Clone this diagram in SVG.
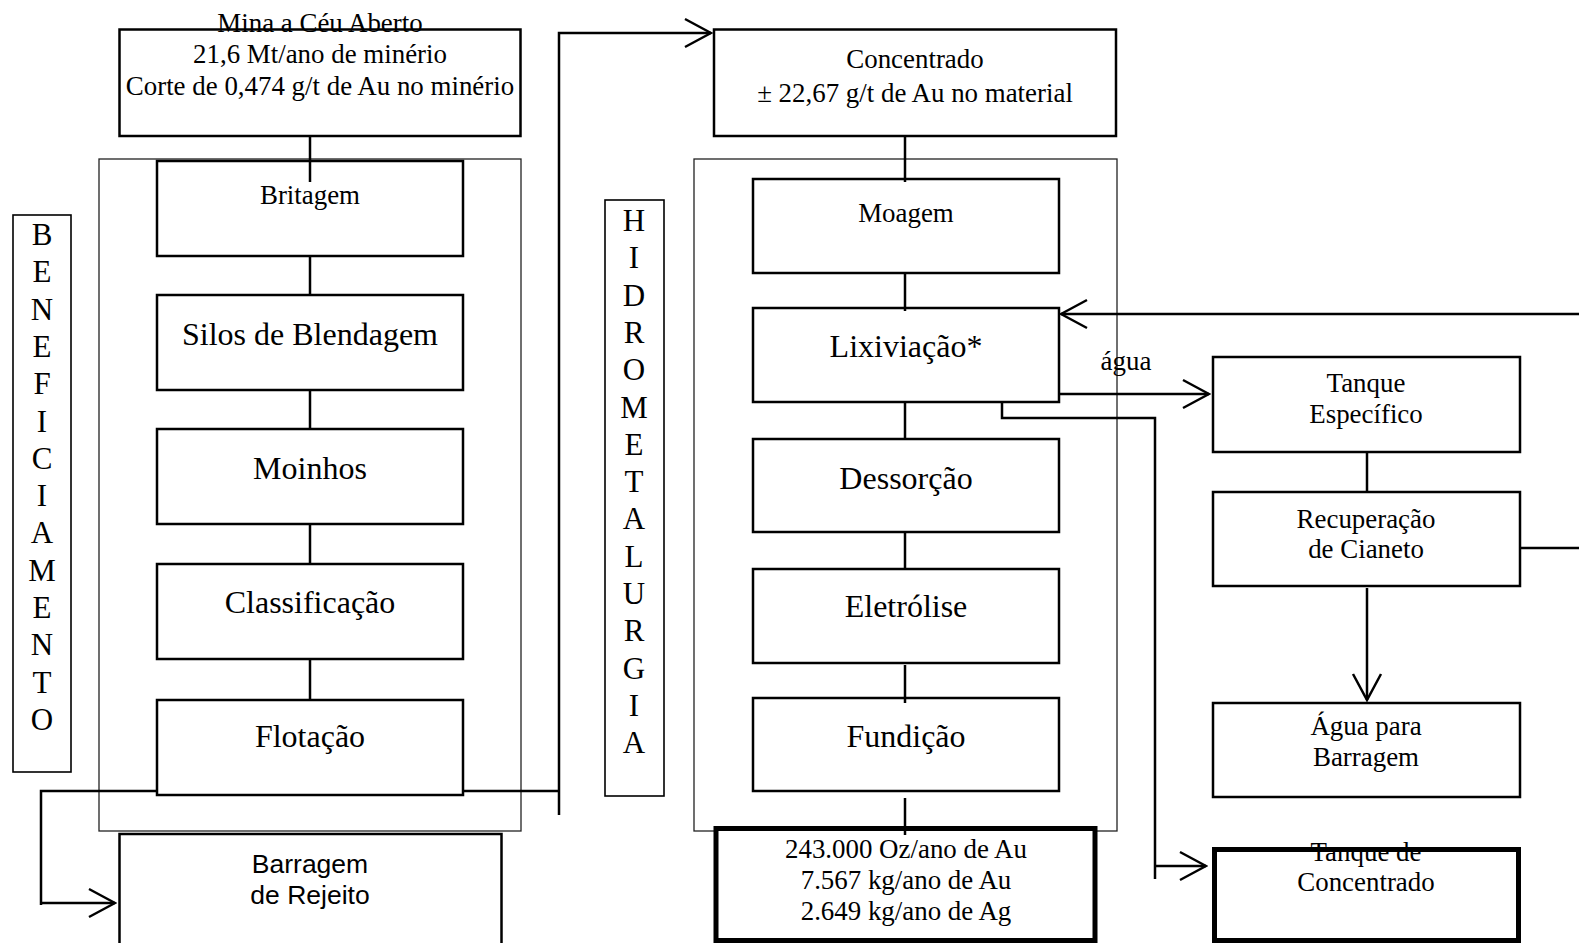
<svg xmlns="http://www.w3.org/2000/svg" width="1579" height="943" viewBox="0 0 1579 943">
<style>
.box{fill:#fff;stroke:#000;stroke-width:2.5}
.thick{fill:#fff;stroke:#000;stroke-width:5}
.frame{fill:none;stroke:#222;stroke-width:1.3}
.lbl{fill:#fff;stroke:#000;stroke-width:1.6}
.c{fill:none;stroke:#000;stroke-width:2.5}
.s{font-family:"Liberation Serif","Times New Roman",serif;font-size:26.9px;text-anchor:middle;fill:#000}
.b{font-family:"Liberation Serif","Times New Roman",serif;font-size:32px;text-anchor:middle;fill:#000}
.v{font-family:"Liberation Serif","Times New Roman",serif;font-size:31px;text-anchor:middle;fill:#000}
.a{font-family:"Liberation Sans",Arial,sans-serif;font-size:26.5px;text-anchor:middle;fill:#000}
</style>
<defs>
<marker id="arr" markerUnits="userSpaceOnUse" markerWidth="30" markerHeight="32" viewBox="0 0 30 32" refX="28" refY="16" orient="auto">
<path d="M2,2 L28,16 L2,30" fill="none" stroke="#000" stroke-width="2.5"/>
</marker>
</defs>
<rect width="1579" height="943" fill="#fff"/>
<g id="frames">
<rect id="frame-beneficiamento" class="frame" x="99" y="159" width="422" height="672"/>
<rect id="frame-hidrometalurgia" class="frame" x="694" y="159" width="423" height="672"/>
</g>
<g id="label-beneficiamento">
<rect class="lbl" x="13" y="215" width="58" height="557"/>
<text class="v" x="42" y="245">B</text>
<text class="v" x="42" y="282.3">E</text>
<text class="v" x="42" y="319.6">N</text>
<text class="v" x="42" y="356.9">E</text>
<text class="v" x="42" y="394.2">F</text>
<text class="v" x="42" y="431.5">I</text>
<text class="v" x="42" y="468.8">C</text>
<text class="v" x="42" y="506.1">I</text>
<text class="v" x="42" y="543.4">A</text>
<text class="v" x="42" y="580.7">M</text>
<text class="v" x="42" y="618">E</text>
<text class="v" x="42" y="655.3">N</text>
<text class="v" x="42" y="692.6">T</text>
<text class="v" x="42" y="729.9">O</text>
</g>
<g id="label-hidrometalurgia">
<rect class="lbl" x="605" y="200" width="59" height="596"/>
<text class="v" x="634" y="231">H</text>
<text class="v" x="634" y="268.3">I</text>
<text class="v" x="634" y="305.6">D</text>
<text class="v" x="634" y="342.9">R</text>
<text class="v" x="634" y="380.2">O</text>
<text class="v" x="634" y="417.5">M</text>
<text class="v" x="634" y="454.8">E</text>
<text class="v" x="634" y="492.1">T</text>
<text class="v" x="634" y="529.4">A</text>
<text class="v" x="634" y="566.7">L</text>
<text class="v" x="634" y="604">U</text>
<text class="v" x="634" y="641.3">R</text>
<text class="v" x="634" y="678.6">G</text>
<text class="v" x="634" y="715.9">I</text>
<text class="v" x="634" y="753.2">A</text>
</g>
<g id="mina">
<rect class="box" x="119.5" y="29.5" width="401" height="106.5"/>
<text class="s" x="320" y="32">Mina a Céu Aberto</text>
<text class="s" x="320" y="63">21,6 Mt/ano de minério</text>
<text class="s" x="320" y="95">Corte de 0,474 g/t de Au no minério</text>
</g>
<g id="britagem"><rect class="box" x="157" y="161" width="306" height="95"/><text class="s" x="310" y="204">Britagem</text></g>
<g id="silos"><rect class="box" x="157" y="295" width="306" height="95"/><text class="b" x="310" y="345">Silos de Blendagem</text></g>
<g id="moinhos"><rect class="box" x="157" y="429" width="306" height="95"/><text class="b" x="310" y="479">Moinhos</text></g>
<g id="classificacao"><rect class="box" x="157" y="564" width="306" height="95"/><text class="b" x="310" y="613">Classificação</text></g>
<g id="flotacao"><rect class="box" x="157" y="700" width="306" height="95"/><text class="b" x="310" y="747">Flotação</text></g>
<g id="barragem-rejeito"><rect class="box" x="119.5" y="834" width="382" height="130"/><text class="a" x="310" y="873">Barragem</text><text class="a" x="310" y="904">de Rejeito</text></g>
<g id="concentrado">
<rect class="box" x="714" y="29.5" width="402" height="106.5"/>
<text class="s" x="915" y="68">Concentrado</text>
<text class="s" x="915" y="102">± 22,67 g/t de Au no material</text>
</g>
<g id="moagem"><rect class="box" x="753" y="179" width="306" height="94"/><text class="s" x="906" y="222">Moagem</text></g>
<g id="lixiviacao"><rect class="box" x="753" y="308" width="306" height="94"/><text class="b" x="906" y="357">Lixiviação*</text></g>
<g id="dessorcao"><rect class="box" x="753" y="439" width="306" height="93"/><text class="b" x="906" y="489">Dessorção</text></g>
<g id="eletrolise"><rect class="box" x="753" y="569" width="306" height="94"/><text class="b" x="906" y="617">Eletrólise</text></g>
<g id="fundicao"><rect class="box" x="753" y="698" width="306" height="93"/><text class="b" x="906" y="747">Fundição</text></g>
<g id="producao">
<rect class="thick" x="716" y="828.5" width="379" height="112"/>
<text class="s" x="906" y="858">243.000 Oz/ano de Au</text>
<text class="s" x="906" y="889">7.567 kg/ano de Au</text>
<text class="s" x="906" y="920">2.649 kg/ano de Ag</text>
</g>
<g id="tanque-especifico"><rect class="box" x="1213" y="357" width="307" height="95"/><text class="s" x="1366" y="392">Tanque</text><text class="s" x="1366" y="423">Específico</text></g>
<g id="recuperacao"><rect class="box" x="1213" y="492" width="307" height="94"/><text class="s" x="1366" y="528">Recuperação</text><text class="s" x="1366" y="558">de Cianeto</text></g>
<g id="agua-barragem"><rect class="box" x="1213" y="703" width="307" height="94"/><text class="s" x="1366" y="735">Água para</text><text class="s" x="1366" y="766">Barragem</text></g>
<g id="tanque-concentrado"><rect class="thick" x="1214.5" y="849.5" width="304" height="91"/><text class="s" x="1366" y="861">Tanque de</text><text class="s" x="1366" y="891">Concentrado</text></g>
<g id="connectors">
<line class="c" x1="310" y1="136" x2="310" y2="182"/>
<line class="c" x1="310" y1="256" x2="310" y2="295"/>
<line class="c" x1="310" y1="390" x2="310" y2="429"/>
<line class="c" x1="310" y1="524" x2="310" y2="564"/>
<line class="c" x1="310" y1="659" x2="310" y2="700"/>
<polyline class="c" points="157,791 41,791 41,905"/>
<line class="c" x1="41" y1="903" x2="115" y2="903" marker-end="url(#arr)"/>
<line class="c" x1="463" y1="791" x2="559" y2="791"/>
<polyline class="c" points="559,815 559,33 711,33" marker-end="url(#arr)"/>
<line class="c" x1="905" y1="136" x2="905" y2="182"/>
<line class="c" x1="905" y1="273" x2="905" y2="311"/>
<line class="c" x1="905" y1="402" x2="905" y2="438"/>
<line class="c" x1="905" y1="532" x2="905" y2="569"/>
<line class="c" x1="905" y1="665" x2="905" y2="703"/>
<line class="c" x1="905" y1="798" x2="905" y2="835"/>
<line class="c" x1="1579" y1="314" x2="1061" y2="314" marker-end="url(#arr)"/>
<line class="c" x1="1059" y1="394" x2="1209" y2="394" marker-end="url(#arr)"/>
<polyline class="c" points="1002,402 1002,418 1155,418 1155,879"/>
<line class="c" x1="1155" y1="866" x2="1206" y2="866" marker-end="url(#arr)"/>
<line class="c" x1="1367" y1="452" x2="1367" y2="493"/>
<line class="c" x1="1367" y1="588" x2="1367" y2="700" marker-end="url(#arr)"/>
<line class="c" x1="1520" y1="548" x2="1579" y2="548"/>
</g>
<text class="s" x="1126" y="370">água</text>
</svg>
